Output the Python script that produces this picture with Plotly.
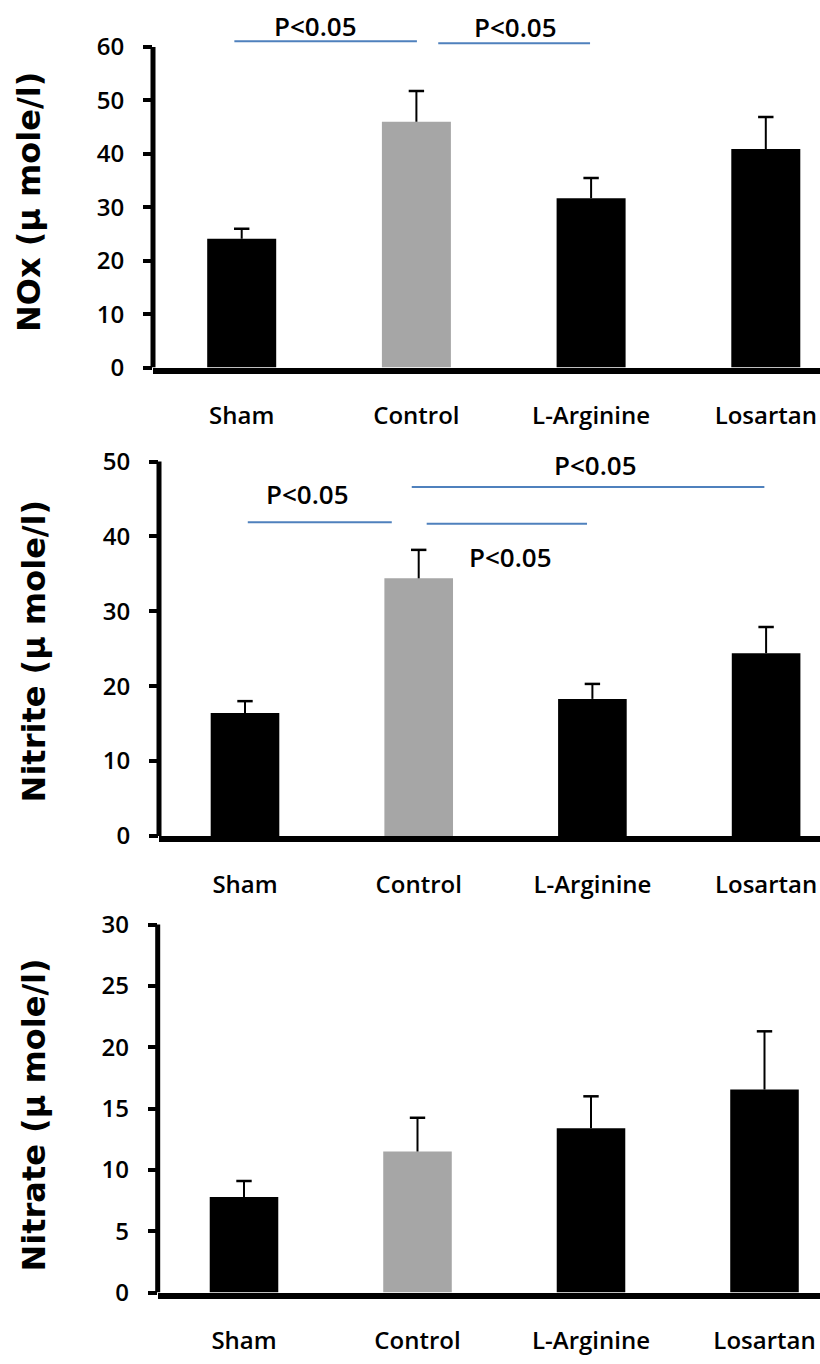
import plotly.graph_objects as go

# ---------------- data ----------------
categories = ["Sham", "Control", "L-Arginine", "Losartan"]
bar_colors = ["#000000", "#a6a6a6", "#000000", "#000000"]

nox_mean = [24.1, 46.0, 31.7, 40.9]
nox_err = [1.9, 5.8, 3.8, 6.0]
nitrite_mean = [16.4, 34.4, 18.3, 24.4]
nitrite_err = [1.6, 3.8, 2.0, 3.5]
nitrate_mean = [7.8, 11.5, 13.4, 16.55]
nitrate_err = [1.3, 2.75, 2.6, 4.75]

y_titles = ["NOx (µ mole/l)", "Nitrite (µ mole/l)", "Nitrate (µ mole/l)"]
y_tick_max = [60, 50, 30]
y_tick_step = [10, 10, 5]
y_range_top = [66, 52, 31]

# significance lines: panel index, x start, x end (category units), y level
sig_panel = [0, 0, 1, 1, 1]
sig_x0 = [-0.042, 1.125, 0.016, 1.046, 0.96]
sig_x1 = [1.003, 1.994, 0.845, 1.969, 2.99]
sig_y = [61.1, 60.7, 41.9, 41.7, 46.6]
# significance labels
lab_panel = [0, 0, 1, 1, 1]
lab_x = [0.42, 1.565, 0.357, 2.02, 1.53]
lab_y = [63.9, 63.7, 45.6, 49.5, 37.2]
lab_text = ["P<0.05"] * 5

means = [nox_mean, nitrite_mean, nitrate_mean]
errs = [nox_err, nitrite_err, nitrate_err]

# ---------------- layout geometry (pixels) ----------------
W, H = 820, 1364
px_zero = [368.0, 843.3, 1306.7]
px_top_tick = [42.7, 463.3, 933.3]
px_yaxis = [153.0, 159.0, 157.7]
px_cat0 = [241.7, 245.0, 244.0]
px_spacing = [174.7, 173.7, 173.5]
px_title_x = [29, 34, 34]
px_title_y = [200, 656, 1127]

TICK_FONT = dict(family="Open Sans", size=24, color="#000000", weight=600)

fig = go.Figure()
layout = dict(
    width=W, height=H,
    margin=dict(l=0, r=0, t=0, b=0),
    paper_bgcolor="white", plot_bgcolor="white",
    showlegend=False, barmode="overlay", hovermode=False,
)
shapes = []
annotations = []

for i in range(3):
    sfx = "" if i == 0 else str(i + 1)
    xa, ya = "x" + sfx, "y" + sfx
    ppu = (px_zero[i] - px_top_tick[i]) / y_tick_max[i]
    dom_bottom = 1 - px_zero[i] / H
    dom_top = 1 - (px_zero[i] - y_range_top[i] * ppu) / H
    xr0 = -(px_cat0[i] - px_yaxis[i]) / px_spacing[i]
    xr1 = (W - px_cat0[i]) / px_spacing[i]

    fig.add_trace(go.Bar(
        x=categories, y=means[i], marker=dict(color=bar_colors, line=dict(width=0)),
        width=0.395, xaxis=xa, yaxis=ya,
    ))
    # error bars (upper only)
    ex, ey = [], []
    for c, m, e in zip(categories, means[i], errs[i]):
        ex += [c, c, None]
        ey += [m, m + e, None]
    fig.add_trace(go.Scatter(
        x=ex, y=ey, mode="lines", line=dict(color="black", width=2),
        xaxis=xa, yaxis=ya,
    ))
    fig.add_trace(go.Scatter(
        x=categories, y=[m + e for m, e in zip(means[i], errs[i])], mode="markers",
        marker=dict(symbol="line-ew", size=11, line=dict(color="black", width=2.5)),
        xaxis=xa, yaxis=ya,
    ))

    layout["xaxis" + sfx] = dict(
        domain=[px_yaxis[i] / W, 1], range=[xr0, xr1], anchor=ya,
        type="category", categoryorder="array", categoryarray=categories,
        showline=True, linecolor="black", linewidth=6, ticks="",
        showgrid=False, zeroline=False,
        tickfont=TICK_FONT,
        ticklabelstandoff=22,
    )
    layout["yaxis" + sfx] = dict(
        domain=[dom_bottom, dom_top], range=[0, y_range_top[i]], anchor=xa,
        tickmode="array",
        tickvals=list(range(0, y_tick_max[i] + 1, y_tick_step[i])),
        ticks="outside", ticklen=9, tickwidth=4, tickcolor="black",
        showline=False, showgrid=False, zeroline=False,
        tickfont=TICK_FONT,
        ticklabelstandoff=14,
    )
    # y axis line from 0 to top tick
    shapes.append(dict(
        type="line", xref=xa + " domain", yref=ya, x0=0, x1=0, y0=0,
        y1=y_tick_max[i], line=dict(color="black", width=5),
    ))
    annotations.append(dict(
        text="<b>" + y_titles[i] + "</b>", xref="paper", yref="paper",
        x=px_title_x[i] / W, y=1 - px_title_y[i] / H, textangle=-90,
        showarrow=False, xanchor="center", yanchor="middle",
        font=dict(family="DejaVu Sans", size=32, color="black"),
    ))

for p, a, b, yv in zip(sig_panel, sig_x0, sig_x1, sig_y):
    sfx = "" if p == 0 else str(p + 1)
    shapes.append(dict(
        type="line", xref="x" + sfx, yref="y" + sfx, x0=a, x1=b, y0=yv, y1=yv,
        line=dict(color="#4f81bd", width=2),
    ))
for p, xv, yv, t in zip(lab_panel, lab_x, lab_y, lab_text):
    sfx = "" if p == 0 else str(p + 1)
    annotations.append(dict(
        text=t, xref="x" + sfx, yref="y" + sfx, x=xv, y=yv, showarrow=False,
        xanchor="center", yanchor="middle",
        font=dict(family="Open Sans", size=26, color="#000000", weight=600),
    ))

layout["shapes"] = shapes
layout["annotations"] = annotations
fig.update_layout(**layout)
fig.write_html(
    "out.html",
    config={"displayModeBar": False, "staticPlot": True},
    post_script="document.body.style.margin='0';document.body.style.overflow='hidden';",
)
